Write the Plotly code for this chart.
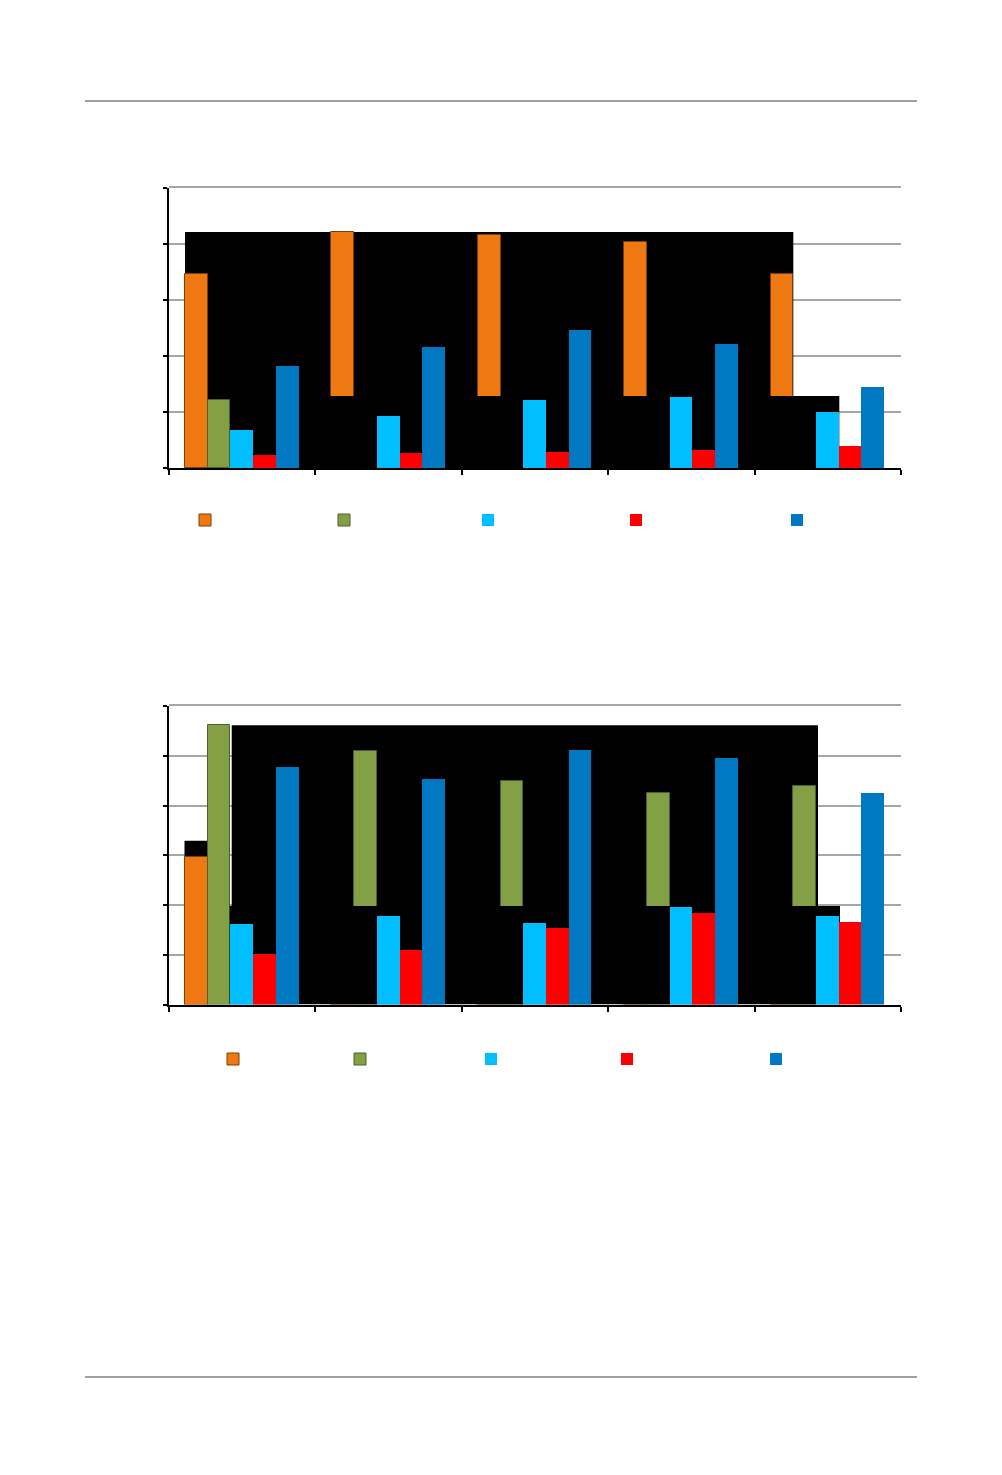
import plotly.graph_objects as go

W, H = 1002, 1475

# ---------------- data ----------------
categories = ["A", "B", "C", "D", "E"]

# chart 1 (top)
c1_orange = [3.46, 4.21, 4.16, 4.04, 3.46]
c1_green = [1.21, 1.15, 1.20, 1.22, 1.18]
c1_cyan = [0.67, 0.93, 1.21, 1.27, 1.00]
c1_red = [0.23, 0.26, 0.29, 0.33, 0.39]
c1_blue = [1.82, 2.16, 2.47, 2.21, 1.45]

# chart 2 (bottom)
c2_orange = [2.97, 1.75, 1.85, 1.90, 1.80]
c2_green = [5.61, 5.10, 4.49, 4.25, 4.40]
c2_cyan = [1.62, 1.78, 1.63, 1.96, 1.78]
c2_red = [1.01, 1.10, 1.53, 1.83, 1.66]
c2_blue = [4.77, 4.53, 5.11, 4.95, 4.25]

c1_range = [0, 5]
c2_range = [0, 6]

# ---------------- styles ----------------
COL = ["#F07812", "#84A046", "#00BEFF", "#FF0000", "#0078C2"]
EDGE = ["#7A3E0A", "#4E6028", None, None, None]
GRID = "#A6A6A6"

# pixel geometry of the page
PX_L, PX_R = 169, 901
C1_T, C1_B = 188, 468
C2_T, C2_B = 706, 1004.5

BW = 22.7 / ((PX_R - PX_L) / 5)
START = (185 - (PX_L + (PX_R - PX_L) / 10)) / ((PX_R - PX_L) / 5)
OFFS = [START + i * BW for i in range(5)]

dom_x = [PX_L / W, PX_R / W]
dom_y1 = [1 - C1_B / H, 1 - C1_T / H]
dom_y2 = [1 - C2_B / H, 1 - C2_T / H]


def xd(px):
    return -0.5 + (px - PX_L) / (PX_R - PX_L) * 5


def yd1(py):
    return (C1_B - py) / (C1_B - C1_T) * 5


def yd2(py):
    return (C2_B - py) / (C2_B - C2_T) * 6


fig = go.Figure()

legend_names = ["legend"] + ["legend%d" % i for i in range(2, 11)]


def add_bar(vals, i, xa, ya, leg):
    line = dict(width=1, color=EDGE[i]) if EDGE[i] else dict(width=0)
    fig.add_trace(go.Bar(
        x=categories, y=vals, xaxis=xa, yaxis=ya,
        offset=OFFS[i], width=BW,
        marker=dict(color=COL[i], line=line),
        name="", legend=leg, showlegend=True, hoverinfo="y",
    ))


s1 = [c1_orange, c1_green, c1_cyan, c1_red, c1_blue]
s2 = [c2_orange, c2_green, c2_cyan, c2_red, c2_blue]
for i in range(5):
    xa, ya = ("x", "y") if i < 2 else ("x2", "y2")
    add_bar(s1[i], i, xa, ya, legend_names[i])
for i in range(5):
    xa, ya = ("x3", "y3") if i < 2 else ("x4", "y4")
    add_bar(s2[i], i, xa, ya, legend_names[5 + i])

# ---------------- axes ----------------
grid_axis = dict(showgrid=True, gridcolor=GRID, gridwidth=1.5, showline=False,
                 ticks="", showticklabels=False, zeroline=False, dtick=1)
line_axis = dict(showgrid=False, showline=True, linecolor="#000000", linewidth=2,
                 ticks="outside", ticklen=4, tickwidth=1.5, tickcolor="#000000",
                 showticklabels=False, zeroline=False, dtick=1)
cat_plain = dict(type="category", categoryorder="array", categoryarray=categories,
                 range=[-0.5, 4.5], showgrid=False, showline=True, mirror=True,
                 linecolor=GRID, linewidth=1.5, ticks="",
                 showticklabels=False, zeroline=False, domain=dom_x)
cat_line = dict(type="category", categoryorder="array", categoryarray=categories,
                range=[-0.5, 4.5], showgrid=False, showline=True, linecolor="#000000",
                linewidth=2, ticks="outside", tickson="boundaries", ticklen=5,
                tickwidth=1.5, tickcolor="#000000", showticklabels=False,
                zeroline=False, domain=dom_x)

fig.update_layout(
    xaxis=dict(cat_plain, anchor="y"),
    yaxis=dict(grid_axis, range=c1_range, domain=dom_y1, anchor="x"),
    xaxis2=dict(cat_line, anchor="y2"),
    yaxis2=dict(line_axis, range=c1_range, domain=dom_y1, anchor="x2"),
    xaxis3=dict(cat_plain, anchor="y3"),
    yaxis3=dict(grid_axis, range=c2_range, domain=dom_y2, anchor="x3"),
    xaxis4=dict(cat_line, anchor="y4"),
    yaxis4=dict(line_axis, range=c2_range, domain=dom_y2, anchor="x4"),
)

# ---------------- black render artefacts ----------------
shapes = [
    dict(type="rect", xref="x", yref="y", layer="between",
         x0=xd(185), x1=xd(793.3), y0=yd1(396), y1=yd1(232),
         fillcolor="#000000", line=dict(width=0)),
    dict(type="rect", xref="x", yref="y", layer="between",
         x0=xd(185), x1=xd(232), y0=yd1(412), y1=yd1(395),
         fillcolor="#000000", line=dict(width=0)),
    dict(type="rect", xref="x2", yref="y2", layer="below",
         x0=xd(230), x1=xd(839.3), y0=0, y1=yd1(396),
         fillcolor="#000000", line=dict(width=0)),
    dict(type="rect", xref="x3", yref="y3", layer="between",
         x0=xd(231.7), x1=xd(818), y0=yd2(906), y1=yd2(725.3),
         fillcolor="#000000", line=dict(width=0)),
    dict(type="rect", xref="x3", yref="y3", layer="between",
         x0=xd(184.5), x1=xd(207.3), y0=yd2(856.7), y1=yd2(840.7),
         fillcolor="#000000", line=dict(width=0)),
    dict(type="rect", xref="x4", yref="y4", layer="below",
         x0=xd(229.7), x1=xd(840), y0=0, y1=yd2(906),
         fillcolor="#000000", line=dict(width=0)),
    # page header / footer rules
    dict(type="line", xref="paper", yref="paper", layer="above",
         x0=85 / W, x1=917 / W, y0=1 - 101 / H, y1=1 - 101 / H,
         line=dict(color="#404040", width=1)),
    dict(type="line", xref="paper", yref="paper", layer="above",
         x0=85 / W, x1=917 / W, y0=1 - 1377 / H, y1=1 - 1377 / H,
         line=dict(color="#404040", width=1)),
]
fig.update_layout(shapes=shapes)

# ---------------- legends (one per swatch) ----------------
leg_pos = [(205, 519), (344, 519), (488, 519), (636, 519), (797, 519),
           (233, 1058), (360, 1058), (491, 1058), (627, 1058), (776, 1058)]
LEG_DX = 20
legs = {}
for name, (cx, cy) in zip(legend_names, leg_pos):
    legs[name] = dict(x=(cx - LEG_DX) / W, y=1 - (cy + 1) / H, xanchor="left", yanchor="middle",
                      bgcolor="rgba(0,0,0,0)", borderwidth=0, font=dict(size=10),
                      orientation="h")
fig.update_layout(**legs)

fig.update_layout(
    width=W, height=H, autosize=False,
    margin=dict(l=0, r=0, t=0, b=0, pad=0),
    paper_bgcolor="#ffffff", plot_bgcolor="rgba(0,0,0,0)",
    barmode="overlay", bargap=0,
    font=dict(family="Liberation Sans, Arial, sans-serif"),
)

fig.write_html("out.html", post_script="document.body.style.margin='0';",
               config={"displayModeBar": False})
